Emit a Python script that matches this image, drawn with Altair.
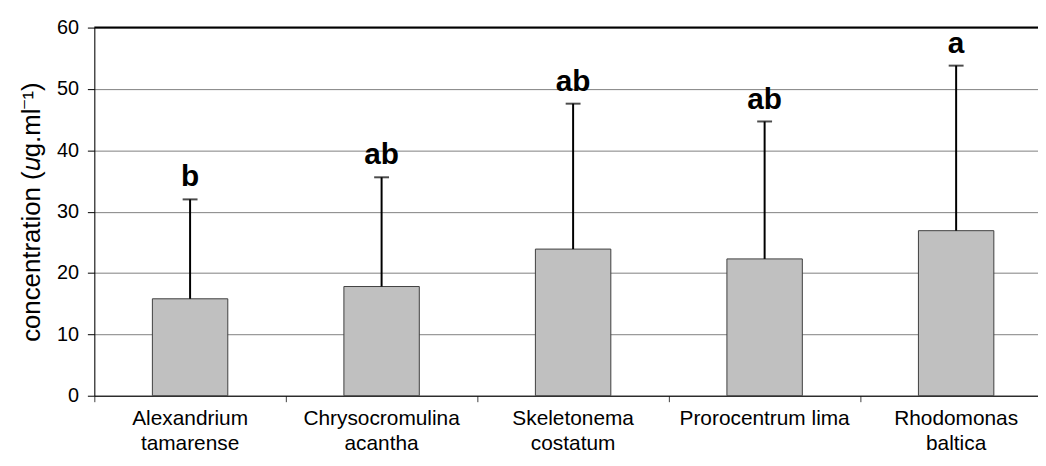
import altair as alt
import pandas as pd

categories = ["Alexandrium\ntamarense", "Chrysocromulina\nacantha", "Skeletonema\ncostatum",
              "Prorocentrum lima", "Rhodomonas\nbaltica"]
means = [15.8, 17.8, 23.9, 22.3, 26.9]
sds = [16.2, 17.8, 23.7, 22.4, 26.9]
letters = ["b", "ab", "ab", "ab", "a"]
y_ticks = [0, 10, 20, 30, 40, 50, 60]

df = pd.DataFrame({
    "cat": categories,
    "mean": means,
    "upper": [m + s for m, s in zip(means, sds)],
    "letter": letters,
})

FONT = "Liberation Sans"

x = alt.X("cat:N", sort=categories, title=None,
          scale=alt.Scale(paddingInner=0, paddingOuter=0),
          axis=alt.Axis(labelAngle=0, bandPosition=0, ticks=True, tickSize=6,
                        tickColor="#404040", domainColor="black", labelColor="black",
                        labelFont=FONT, labelFontSize=21, labelPadding=6,
                        labelLineHeight=25, labelExpr="split(datum.value, '\\n')",
                        grid=False))

y_axis = alt.Axis(values=y_ticks, grid=True, gridColor="#808080", gridWidth=1,
                  domainColor="black", tickColor="black", tickSize=7,
                  labelFont=FONT, labelFontSize=20, labelColor="black", labelPadding=9,
                  title="concentration (𝑢g.ml⁻¹)", titleFont=FONT, titleFontSize=26,
                  titleFontWeight="normal", titleColor="black", titlePadding=12)

base = alt.Chart(df)

bars = base.mark_bar(size=76, color="#c0c0c0", stroke="#404040", strokeWidth=1).encode(
    x=x,
    y=alt.Y("mean:Q", scale=alt.Scale(domain=[0, 60], nice=False), axis=y_axis),
)

err = base.mark_rule(color="black", strokeWidth=2).encode(
    x=alt.X("cat:N", sort=categories), y="mean:Q", y2="upper:Q")

caps = base.mark_tick(color="black", size=15, thickness=2, orient="horizontal").encode(
    x=alt.X("cat:N", sort=categories), y="upper:Q")

labels = base.mark_text(font=FONT, fontSize=30, fontWeight="bold", color="black",
                        baseline="alphabetic", dy=-13).encode(
    x=alt.X("cat:N", sort=categories), y="upper:Q", text="letter:N")

top = alt.Chart(pd.DataFrame({"v": [60]})).mark_rule(color="black", strokeWidth=2).encode(
    y="v:Q")

chart = alt.layer(bars, err, caps, labels, top).properties(
    width=965, height=371,
    autosize=alt.AutoSizeParams(type="none"),
    padding={"left": 87, "top": 18, "right": -14, "bottom": 60},
).configure_view(stroke=None).configure(background="white")

chart.save("out.html", embed_options={"renderer": "svg", "actions": False})
